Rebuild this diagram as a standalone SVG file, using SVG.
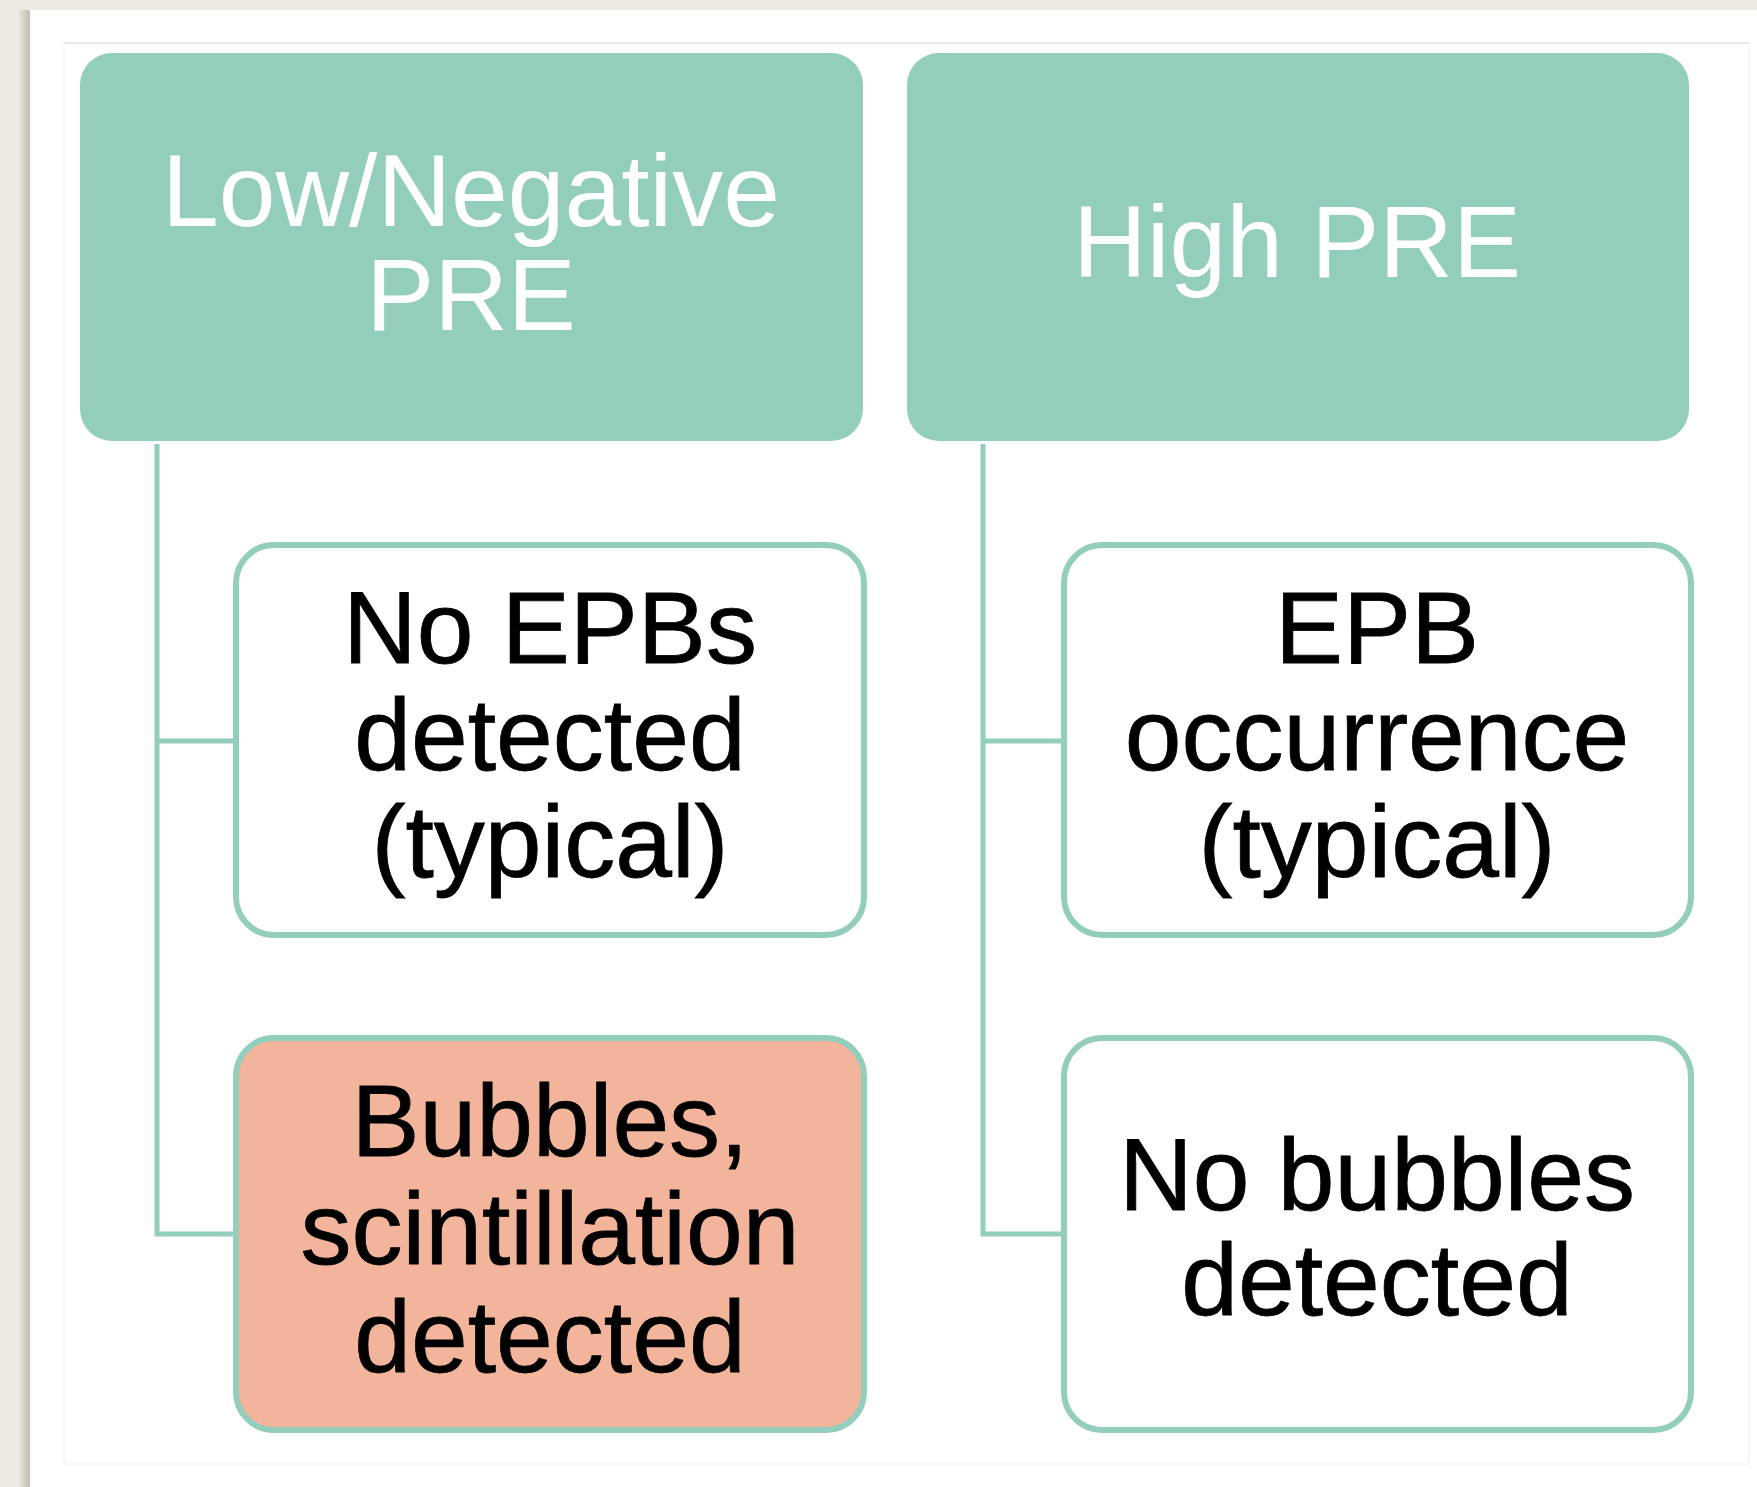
<svg xmlns="http://www.w3.org/2000/svg" width="1757" height="1487" viewBox="0 0 1757 1487">
<defs>
<linearGradient id="shadow" x1="0" y1="0" x2="1" y2="0">
<stop offset="0" stop-color="#EEEAE1"/>
<stop offset="0.6" stop-color="#D2CCC2"/>
<stop offset="1" stop-color="#C4BEB3"/>
</linearGradient>
<style>
.hdr{fill:#93CDBB}
.hdr-t{fill:#FFFFFF;font-family:"Liberation Sans",Arial,sans-serif;font-size:102px;text-anchor:middle}
.box{fill:#FFFFFF;stroke:#93CDBB;stroke-width:6}
.hot{fill:#F2B59B;stroke:#93CDBB;stroke-width:6}
.txt{fill:#000000;stroke:#000000;stroke-width:0.8;font-family:"Liberation Sans",Arial,sans-serif;font-size:102px;text-anchor:middle}
.conn{fill:none;stroke:#93CDBB;stroke-width:5}
</style>
</defs>
<rect x="0" y="0" width="1757" height="1487" fill="#EEEAE1"/>
<rect x="18" y="10" width="12" height="1477" fill="url(#shadow)"/>
<rect x="30" y="10" width="1727" height="1477" fill="#FFFFFF"/>
<rect x="64" y="43" width="1685" height="1421" fill="none" stroke="#F3F3F5" stroke-width="1.5"/>
<line x1="64" y1="43" x2="1749" y2="43" stroke="#E4E4E8" stroke-width="1.5"/>

<g id="connectors">
<path class="conn" d="M157 444 V1234 H233"/>
<path class="conn" d="M157 741 H233"/>
<path class="conn" d="M983 444 V1234 H1061"/>
<path class="conn" d="M983 741 H1061"/>
</g>

<g id="hdr-low">
<rect class="hdr" x="80" y="53" width="783" height="388" rx="32"/>
<text class="hdr-t" x="471" y="226">Low/Negative</text>
<text class="hdr-t" x="471" y="330">PRE</text>
</g>

<g id="hdr-high">
<rect class="hdr" x="907" y="53" width="782" height="388" rx="32"/>
<text class="hdr-t" x="1297" y="277">High PRE</text>
</g>

<g id="no-epbs">
<rect class="box" x="236" y="545" width="628" height="390" rx="38"/>
<text class="txt" x="550" y="663">No EPBs</text>
<text class="txt" x="550" y="770">detected</text>
<text class="txt" x="550" y="877">(typical)</text>
</g>

<g id="bubbles">
<rect class="hot" x="236" y="1038" width="628" height="392" rx="38"/>
<text class="txt" x="550" y="1156">Bubbles,</text>
<text class="txt" x="550" y="1264">scintillation</text>
<text class="txt" x="550" y="1372">detected</text>
</g>

<g id="epb-occurrence">
<rect class="box" x="1064" y="545" width="627" height="390" rx="38"/>
<text class="txt" x="1377" y="663">EPB</text>
<text class="txt" x="1377" y="770">occurrence</text>
<text class="txt" x="1377" y="877">(typical)</text>
</g>

<g id="no-bubbles">
<rect class="box" x="1064" y="1038" width="627" height="392" rx="38"/>
<text class="txt" x="1377" y="1210">No bubbles</text>
<text class="txt" x="1377" y="1315">detected</text>
</g>
</svg>
